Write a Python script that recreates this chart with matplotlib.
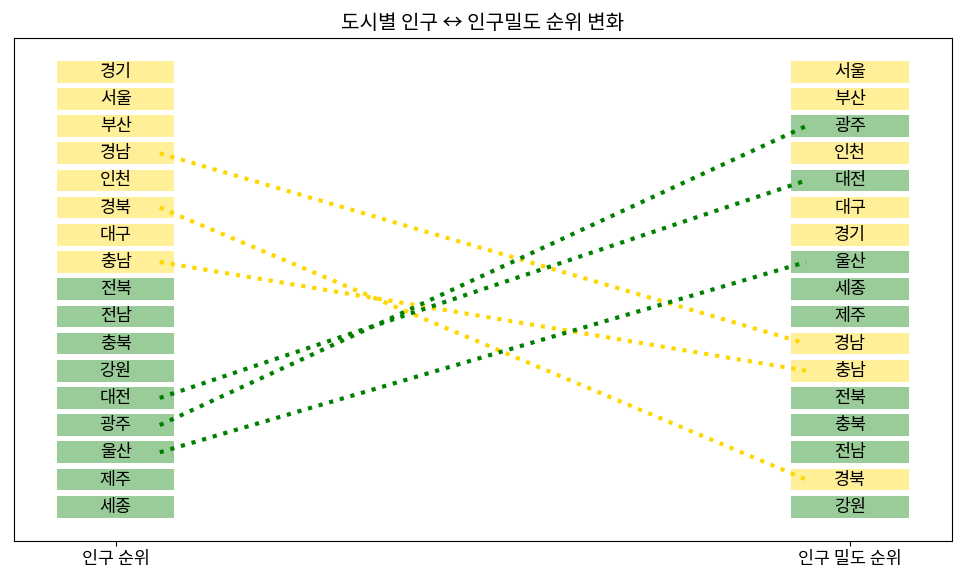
import matplotlib
matplotlib.use("Agg")
import matplotlib.pyplot as plt

plt.rcParams['font.family'] = ['Noto Sans CJK KR', 'DejaVu Sans']

# population rank (left) and density rank (right)
pop_rank = ["경기", "서울", "부산", "경남", "인천", "경북", "대구", "충남", "전북",
            "전남", "충북", "강원", "대전", "광주", "울산", "제주", "세종"]
density_rank = ["서울", "부산", "광주", "인천", "대전", "대구", "경기", "울산", "세종",
                "제주", "경남", "충남", "전북", "충북", "전남", "경북", "강원"]
top_n = 8
col_labels = ["인구 순위", "인구 밀도 순위"]
title = "도시별 인구 ↔ 인구밀도 순위 변화"

top_pop = set(pop_rank[:top_n])
top_den = set(density_rank[:top_n])

def group_color(city):
    return "gold" if city in top_pop else "green"

fig, ax = plt.subplots(figsize=(9.66, 5.8), dpi=100)
fig.subplots_adjust(left=0.0148, right=0.985, bottom=0.0678, top=0.935)

box_w = 0.16
box_h = 0.8

# boxes + names
for col, order in enumerate([pop_rank, density_rank]):
    ys = list(range(len(order)))
    colors = [group_color(c) for c in order]
    ax.barh(ys, box_w, left=col - box_w / 2, height=box_h, color=colors,
            alpha=0.4, zorder=1)
    for y, city in zip(ys, order):
        ax.text(col, y, city, ha="center", va="center", fontsize=12.5, zorder=3)

# lines for cities that moved in/out of the top group
for city in pop_rank:
    if (city in top_pop) != (city in top_den):
        y0 = pop_rank.index(city)
        y1 = density_rank.index(city)
        ax.plot([0.06, 0.94], [y0, y1], linestyle=":", linewidth=3,
                color=group_color(city), zorder=2)

ax.set_xlim(-0.138, 1.138)
ax.set_ylim(len(pop_rank) + 0.25, -1.25)
ax.set_xticks([0, 1])
ax.set_xticklabels(col_labels, fontsize=12.5)
ax.set_yticks([])
ax.set_title(title, fontsize=14.5)

fig.savefig("out.png", dpi=100)
